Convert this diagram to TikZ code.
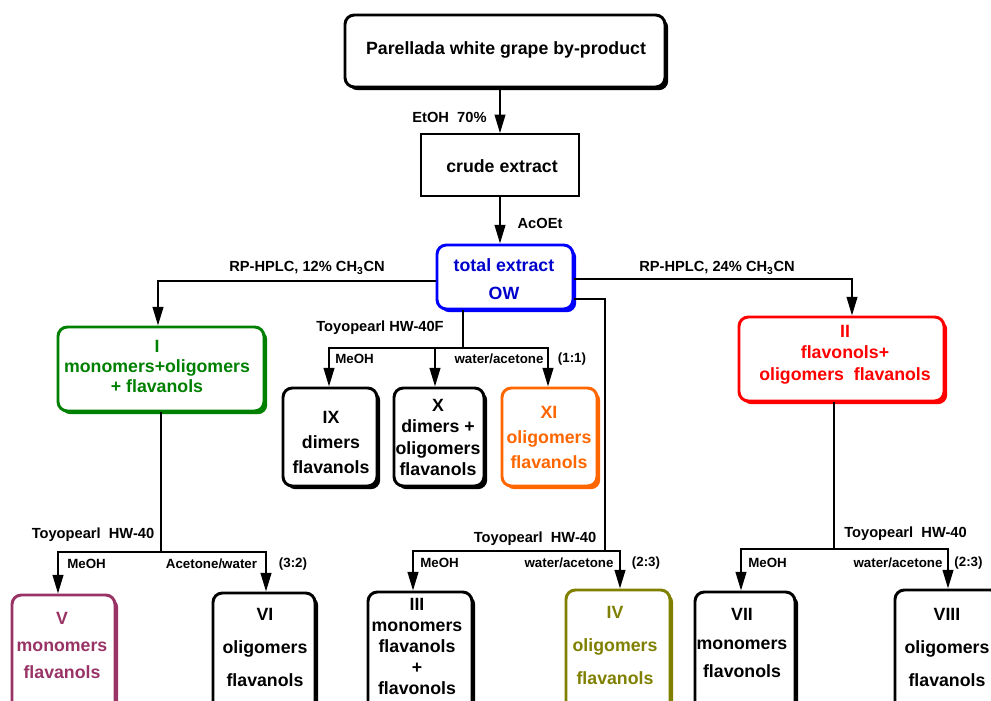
\documentclass[tikz,border=0pt]{standalone}
\usepackage{fontspec}
\setmainfont{Liberation Sans}
\usetikzlibrary{arrows.meta,shadows,fit,calc}
\definecolor{cblue}{RGB}{0,0,255}
\definecolor{cbluetxt}{RGB}{0,0,205}
\definecolor{cgreen}{RGB}{0,128,0}
\definecolor{cred}{RGB}{255,0,0}
\definecolor{corange}{RGB}{255,102,0}
\definecolor{cplum}{RGB}{153,51,102}
\definecolor{colive}{RGB}{128,128,0}
\tikzset{
  conn/.style={line width=1.5pt, draw=black},
  arr/.style={conn, -{Triangle[length=14pt,width=8pt]}},
  bx/.style={draw, line width=2.2pt, rounded corners=7pt, fill=white, inner sep=0pt},
  sh/.style={drop shadow={shadow xshift=2.4pt, shadow yshift=-2.4pt, opacity=1, fill=#1}},
  big/.style={font=\fontsize{13.3}{#1}\selectfont\bfseries, align=center, inner sep=0pt},
  mid/.style={font=\fontsize{11}{13}\selectfont\bfseries, inner sep=0pt},
  sml/.style={font=\fontsize{10}{12}\selectfont\bfseries, inner sep=0pt},
}
\begin{document}
\begin{tikzpicture}[x=0.75pt,y=-0.75pt]
\useasboundingbox (0,0) rectangle (991,700);
\fill[white] (0,0) rectangle (991,700);
\clip (0,0) rectangle (991,700);

% ---------- boxes ----------
\node[bx, sh=black, fit={(345,15) (665,87)}] (src) {};
\node[draw, line width=1.2pt, fill=white, inner sep=0pt, fit={(421,134) (579,196)}] (crude) {};
\node[bx, draw=cblue, sh=cblue, fit={(437,245) (573,309)}] (tot) {};
\node[bx, draw=cgreen, sh=cgreen, fit={(58,327) (264,411)}] (I) {};
\node[bx, draw=cred, sh=cred, fit={(739,317) (944,401)}] (II) {};
\node[bx, sh=black, fit={(283,388) (377,486)}] (IX) {};
\node[bx, sh=black, fit={(394,388) (484,486)}] (X) {};
\node[bx, draw=corange, sh=corange, fit={(502,388) (597,486)}] (XI) {};
\node[bx, draw=cplum, sh=cplum, fit={(12,595) (115,730)}] (V) {};
\node[bx, sh=black, fit={(213,593) (315,730)}] (VI) {};
\node[bx, sh=black, fit={(368,592) (472,730)}] (III) {};
\node[bx, draw=colive, sh=colive, fit={(566,590) (670,730)}] (IV) {};
\node[bx, sh=black, fit={(695,592) (795,730)}] (VII) {};
\node[bx, sh=black, fit={(895,590) (1000,730)}] (VIII) {};

% ---------- box texts ----------
\node[big=16] (tsrc) at (506,50) {Parellada white grape by-product};
\node[big=16] (tcrude) at (502,166) {crude extract};
\node[big=21, text=cbluetxt] (ttot) at (504,279) {total extract\\OW};
\node[big=15, text=cgreen] (tI) at (157,366) {I\\monomers+oligomers\\+ flavanols};
\node[big=16, text=cred] (tII) at (845,354.5) {II\\flavonols+\\oligomers\ \ flavanols};
\node[big=18.75] (tIX) at (331,442) {IX\\dimers\\flavanols};
\node[big=16] (tX) at (438,437.5) {X\\dimers +\\oligomers\\flavanols};
\node[big=18.75, text=corange] (tXI) at (549,437) {XI\\oligomers\\flavanols};
\node[big=20.6, text=cplum] (tV) at (62,645.5) {V\\monomers\\flavanols};
\node[big=24.4] (tVI) at (265,647.5) {VI\\oligomers\\flavanols};
\node[big=15.6] (tIII) at (417,646.5) {III\\monomers\\flavanols\\+\\flavonols};
\node[big=24.4, text=colive] (tIV) at (615,645.5) {IV\\oligomers\\flavanols};
\node[big=21.4] (tVII) at (742,643) {VII\\monomers\\flavonols};
\node[big=24.75] (tVIII) at (947,647) {VIII\\oligomers\\flavanols};

% ---------- junction coordinates ----------
\coordinate (j1) at (161,552);
\coordinate (a1l) at (58,552);
\coordinate (a1r) at (266,552);
\coordinate (j2) at (463,348);
\coordinate (a2l) at (329,348);
\coordinate (a2m) at (435,348);
\coordinate (a2r) at (548,348);
\coordinate (j3t) at (605,299);
\coordinate (j3) at (605,551);
\coordinate (a3l) at (413,551);
\coordinate (a3r) at (620,551);
\coordinate (j4) at (834,549);
\coordinate (a4l) at (741,549);
\coordinate (a4r) at (948,549);
\coordinate (aI) at (158,281);
\coordinate (aII) at (852,279);

% ---------- connectors ----------
\draw[arr] (crude.north |- src.south) -- (crude.north);
\draw[arr] (crude.south) -- (crude.south |- tot.north);
\draw[arr] (tot.west |- aI) -- (aI) -- (aI |- I.north);
\draw[arr] (tot.east |- aII) -- (aII) -- (aII |- II.north);
\draw[conn] (tot.east |- j3t) -- (j3t) -- (j3);

\draw[conn] (j1 |- I.south) -- (j1);
\draw[arr] (j1) -- (a1l) -- (a1l |- V.north);
\draw[arr] (j1) -- (a1r) -- (a1r |- VI.north);

\draw[conn] (j2 |- tot.south) -- (j2);
\draw[arr] (j2) -- (a2l) -- (a2l |- IX.north);
\draw[arr] (a2m) -- (a2m |- X.north);
\draw[arr] (j2) -- (a2r) -- (a2r |- XI.north);

\draw[arr] (j3) -- (a3l) -- (a3l |- III.north);
\draw[arr] (j3) -- (a3r) -- (a3r |- IV.north);

\draw[conn] (j4 |- II.south) -- (j4);
\draw[arr] (j4) -- (a4l) -- (a4l |- VII.north);
\draw[arr] (j4) -- (a4r) -- (a4r |- VIII.north);

% ---------- connector labels ----------
\node[mid] (lEtOH) at (449.5,117) {EtOH\ \ 70\%};
\node[mid] (lAcOEt) at (540,223) {AcOEt};
\node[mid] (lRP12) at (307,268) {RP-HPLC, 12\% CH\textsubscript{3}CN};
\node[mid] (lRP24) at (717,268) {RP-HPLC, 24\% CH\textsubscript{3}CN};

\node[mid] (lT2) at (380,328) {Toyopearl HW-40F};
\node[sml, anchor=west] (lM2) at (335,359) {MeOH};
\node[sml] (lW2) at (499,359) {water/acetone};
\node[sml] (lR2) at (572,359) {(1:1)};

\node[mid] (lT1) at (93,535) {Toyopearl\ \ HW-40};
\node[sml, anchor=west] (lM1) at (67,564) {MeOH};
\node[sml] (lW1) at (211.5,564) {Acetone/water};
\node[sml] (lR1) at (293,564) {(3:2)};

\node[mid] (lT3) at (535,539) {Toyopearl\ \ HW-40};
\node[sml, anchor=west] (lM3) at (420,563) {MeOH};
\node[sml] (lW3) at (569,563) {water/acetone};
\node[sml] (lR3) at (646,563) {(2:3)};

\node[mid] (lT4) at (905.5,534) {Toyopearl\ \ HW-40};
\node[sml, anchor=west] (lM4) at (748,563) {MeOH};
\node[sml] (lW4) at (898,563) {water/acetone};
\node[sml] (lR4) at (968.5,563) {(2:3)};
\end{tikzpicture}
\end{document}
